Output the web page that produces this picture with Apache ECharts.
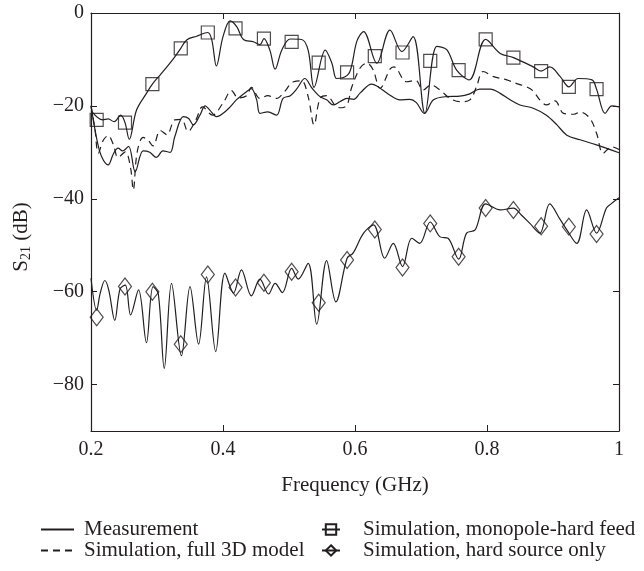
<!DOCTYPE html>
<html>
<head>
<meta charset="utf-8">
<script src="https://cdn.jsdelivr.net/npm/echarts@6/dist/echarts.min.js"></script>
<style>
html,body{margin:0;padding:0;background:#fff;}
#chart{width:644px;height:571px;}
</style>
</head>
<body>
<div id="chart"></div>
<script>
// ---- data (GHz, dB) ----
const measFreq = [0.200,0.209,0.216,0.226,0.234,0.241,0.248,0.257,0.267,0.279,0.289,0.299,0.309,0.320,0.327,0.340,0.348,0.355,0.365,0.373,0.380,0.390,0.406,0.421,0.436,0.443,0.451,0.456,0.468,0.481,0.491,0.502,0.512,0.524,0.535,0.547,0.557,0.567,0.577,0.588,0.598,0.608,0.625,0.633,0.653,0.668,0.683,0.693,0.705,0.719,0.739,0.759,0.774,0.789,0.805,0.820,0.835,0.850,0.870,0.890,0.906,0.921,0.941,0.966,1.000];
const measDb = [-20.0,-27.3,-30.9,-32.7,-30.3,-29.1,-29.7,-28.7,-34.2,-29.7,-30.0,-31.1,-29.7,-30.0,-26.6,-22.3,-22.7,-24.1,-22.0,-20.0,-20.9,-22.3,-20.9,-18.6,-16.9,-16.3,-18.7,-21.6,-21.3,-22.0,-18.4,-17.8,-16.3,-14.1,-16.2,-18.0,-18.7,-19.8,-19.1,-18.4,-18.6,-17.2,-15.3,-15.7,-17.7,-18.7,-18.6,-19.3,-21.6,-18.7,-18.0,-17.9,-17.4,-16.4,-16.4,-17.3,-18.7,-19.8,-20.5,-22.0,-24.1,-26.3,-27.3,-28.4,-30.1];

const fullFreq = [0.200,0.206,0.211,0.219,0.226,0.234,0.241,0.252,0.260,0.264,0.270,0.279,0.286,0.294,0.305,0.315,0.327,0.337,0.347,0.359,0.369,0.384,0.400,0.413,0.423,0.436,0.443,0.456,0.468,0.481,0.491,0.507,0.519,0.529,0.538,0.547,0.557,0.572,0.580,0.588,0.595,0.608,0.618,0.627,0.638,0.653,0.659,0.678,0.692,0.703,0.715,0.729,0.744,0.759,0.774,0.784,0.794,0.810,0.830,0.845,0.860,0.870,0.880,0.890,0.903,0.916,0.932,0.941,0.956,0.966,0.976,0.989,1.000];
const fullDb = [-20.0,-25.0,-30.2,-27.3,-26.4,-28.4,-31.1,-29.9,-33.4,-38.1,-29.9,-26.8,-27.3,-28.6,-25.3,-26.2,-23.0,-22.9,-25.5,-23.0,-20.2,-22.0,-19.4,-16.7,-18.3,-17.8,-16.0,-18.4,-17.8,-18.4,-17.3,-14.8,-14.6,-18.0,-24.1,-18.4,-17.8,-20.2,-20.4,-19.8,-16.0,-11.8,-10.8,-12.1,-16.2,-12.1,-11.6,-14.8,-14.5,-16.6,-15.5,-16.6,-18.4,-19.1,-18.7,-15.9,-12.6,-13.7,-14.4,-15.2,-15.9,-16.8,-18.7,-19.8,-18.9,-21.6,-21.8,-21.3,-22.7,-25.9,-30.2,-28.8,-29.4];

const monoFreq = [0.200,0.218,0.226,0.235,0.245,0.2515,0.258,0.269,0.284,0.293,0.305,0.325,0.336,0.345,0.360,0.377,0.383,0.390,0.400,0.411,0.421,0.431,0.446,0.456,0.462,0.471,0.479,0.489,0.502,0.519,0.529,0.538,0.555,0.565,0.572,0.580,0.592,0.603,0.613,0.633,0.653,0.671,0.688,0.706,0.724,0.739,0.754,0.773,0.798,0.820,0.840,0.870,0.882,0.895,0.911,0.924,0.938,0.959,0.966,0.979,0.989,1.000];
const monoDb = [-21.0,-23.0,-22.8,-23.4,-22.0,-23.6,-27.2,-20.9,-17.3,-15.3,-13.3,-9.8,-7.6,-5.8,-5.0,-4.2,-5.8,-11.4,-5.1,-1.7,-3.0,-5.7,-6.2,-6.8,-5.5,-8.0,-12.1,-8.0,-5.6,-5.7,-8.0,-16.0,-8.0,-10.8,-14.1,-14.0,-12.7,-6.0,-4.0,-10.8,-3.7,-8.3,-5.1,-21.6,-7.2,-7.9,-12.3,-14.4,-5.7,-8.7,-9.6,-11.6,-12.5,-11.6,-13.7,-15.9,-14.1,-14.4,-16.4,-21.6,-20.0,-20.2];

const hardFreq = [0.200,0.2086,0.214,0.221,0.227,0.236,0.244,0.252,0.260,0.272,0.284,0.294,0.302,0.311,0.322,0.337,0.350,0.363,0.375,0.389,0.403,0.416,0.428,0.443,0.456,0.469,0.479,0.490,0.504,0.514,0.529,0.542,0.557,0.571,0.588,0.597,0.613,0.628,0.645,0.658,0.672,0.686,0.698,0.714,0.729,0.741,0.757,0.769,0.782,0.798,0.820,0.840,0.852,0.865,0.880,0.895,0.911,0.921,0.936,0.951,0.966,0.981,0.988,1.000];
const hardDb = [-57.1,-64.0,-60.3,-57.6,-59.7,-66.2,-59.4,-58.6,-65.0,-59.6,-71.0,-58.9,-60.5,-76.5,-58.2,-73.8,-58.9,-71.3,-56.8,-72.9,-56.0,-60.3,-55.3,-60.9,-57.3,-60.5,-58.2,-60.2,-55.0,-57.3,-53.9,-67.0,-53.3,-62.2,-52.8,-51.7,-47.4,-45.6,-52.8,-49.6,-54.6,-48.5,-49.6,-45.0,-48.2,-48.5,-53.0,-47.4,-46.7,-41.1,-42.4,-42.0,-43.5,-45.3,-47.4,-41.1,-44.5,-46.7,-49.6,-42.4,-47.4,-42.0,-41.1,-39.8];

const markerFreq = [0.2086,0.2515,0.293,0.336,0.377,0.419,0.462,0.504,0.545,0.588,0.630,0.672,0.714,0.757,0.798,0.840,0.882,0.924,0.966];
const monoMarkerDb = [-23.0,-23.6,-15.3,-7.6,-4.2,-3.3,-5.5,-6.2,-10.7,-12.8,-9.3,-8.5,-10.3,-12.3,-5.7,-9.6,-12.5,-15.9,-16.4];
const hardMarkerDb = [-65.5,-58.9,-60.0,-71.3,-56.3,-59.1,-58.1,-55.7,-62.4,-53.2,-46.6,-54.8,-45.3,-52.5,-42.0,-42.4,-45.9,-46.0,-47.6];

const xTicks = [0.2,0.4,0.6,0.8,1.0];
const yTicks = [0,-20,-40,-60,-80];

const seriesNames = ['Measurement','Simulation, full 3D model','Simulation, monopole-hard feed','Simulation, hard source only'];

// ---- build ----
const zip = (a,b) => a.map((v,i) => [v, b[i]]);
const INK = '#231f20';
const FONT = "'Liberation Serif','Times New Roman',serif";
const hollow = {color:'rgba(0,0,0,0)', borderColor:INK, borderWidth:1.2};

const chart = echarts.init(document.getElementById('chart'), null, {renderer:'canvas'});

const xBase = {
  type:'value', min:0.2, max:1, interval:0.2,
  axisLine:{show:true, onZero:false, lineStyle:{color:INK, width:1.2}},
  axisTick:{show:true, inside:true, length:6, customValues:xTicks, lineStyle:{color:INK, width:1}},
  splitLine:{show:false}
};
const yBase = {
  type:'value', min:-90, max:0,
  axisLine:{show:true, onZero:false, lineStyle:{color:INK, width:1.2}},
  axisTick:{show:true, inside:true, length:6, customValues:yTicks, lineStyle:{color:INK, width:1}},
  splitLine:{show:false}
};

const option = {
  animation:false,
  backgroundColor:'#fff',
  textStyle:{fontFamily:FONT, color:INK},
  grid:{left:91, right:25, top:13, bottom:140, containLabel:false},
  xAxis:[
    Object.assign({}, xBase, {
      position:'bottom',
      name:'Frequency (GHz)', nameLocation:'middle', nameGap:44,
      nameTextStyle:{fontFamily:FONT, fontSize:21, color:INK},
      axisLabel:{show:true, margin:9, fontFamily:FONT, fontSize:20, color:INK, customValues:xTicks,
        formatter: v => String(+(+v).toFixed(1))}
    }),
    Object.assign({}, xBase, {position:'top', axisLabel:{show:false}})
  ],
  yAxis:[
    Object.assign({}, yBase, {
      position:'left',
      name:'{s|S}{sub|21}{s| (dB)}', nameLocation:'middle', nameGap:58, nameRotate:90,
      nameTextStyle:{fontFamily:FONT, color:INK, padding:[0,30,0,0],
        rich:{
          s:{fontFamily:FONT, fontSize:21, color:INK},
          sub:{fontFamily:FONT, fontSize:14, color:INK, padding:[10,0,0,0]}
        }},
      axisLabel:{show:true, margin:7, fontFamily:FONT, fontSize:20, color:INK, customValues:yTicks,
        formatter: v => v < 0 ? '\u2212' + Math.abs(v) : String(v)}
    }),
    Object.assign({}, yBase, {position:'right', axisLabel:{show:false}})
  ],
  legend:[
    {
      orient:'vertical', left:35, top:514, itemWidth:33, itemHeight:14, itemGap:0,
      textStyle:{fontFamily:FONT, fontSize:21, color:INK, lineHeight:20, padding:[0,0,0,5]},
      data:[
        {name:seriesNames[0], itemStyle:{opacity:0}},
        {name:seriesNames[1], itemStyle:{opacity:0}}
      ]
    },
    {
      orient:'vertical', left:316, top:514, itemWidth:18, itemHeight:13, itemGap:0,
      textStyle:{fontFamily:FONT, fontSize:21, color:INK, lineHeight:20, padding:[0,0,0,18]},
      data:[seriesNames[2], seriesNames[3]]
    }
  ],
  series:[
    {
      name:seriesNames[0], type:'line', data:zip(measFreq, measDb),
      showSymbol:false, symbol:'none', smooth:0.35,
      lineStyle:{color:INK, width:1.2}, itemStyle:{color:INK}, z:3
    },
    {
      name:seriesNames[1], type:'line', data:zip(fullFreq, fullDb),
      showSymbol:false, symbol:'none', smooth:0.35,
      lineStyle:{color:INK, width:1.2, type:[7,5]}, itemStyle:{color:INK}, z:3
    },
    {
      name:seriesNames[2], type:'line', data:zip(monoFreq, monoDb),
      showSymbol:false, symbol:'rect', smooth:0.35,
      lineStyle:{color:INK, width:1.2}, itemStyle:hollow, z:3
    },
    {
      name:seriesNames[3], type:'line', data:zip(hardFreq, hardDb),
      showSymbol:false, symbol:'diamond', smooth:0.35,
      lineStyle:{color:INK, width:1.2}, itemStyle:hollow, z:3
    },
    {
      name:'monopole markers', type:'scatter', data:zip(markerFreq, monoMarkerDb),
      symbol:'rect', symbolSize:13, itemStyle:hollow, z:4, silent:true
    },
    {
      name:'hard source markers', type:'scatter', data:zip(markerFreq, hardMarkerDb),
      symbol:'diamond', symbolSize:[13,17], itemStyle:hollow, z:4, silent:true
    }
  ]
};
chart.setOption(option);
</script>
</body>
</html>
